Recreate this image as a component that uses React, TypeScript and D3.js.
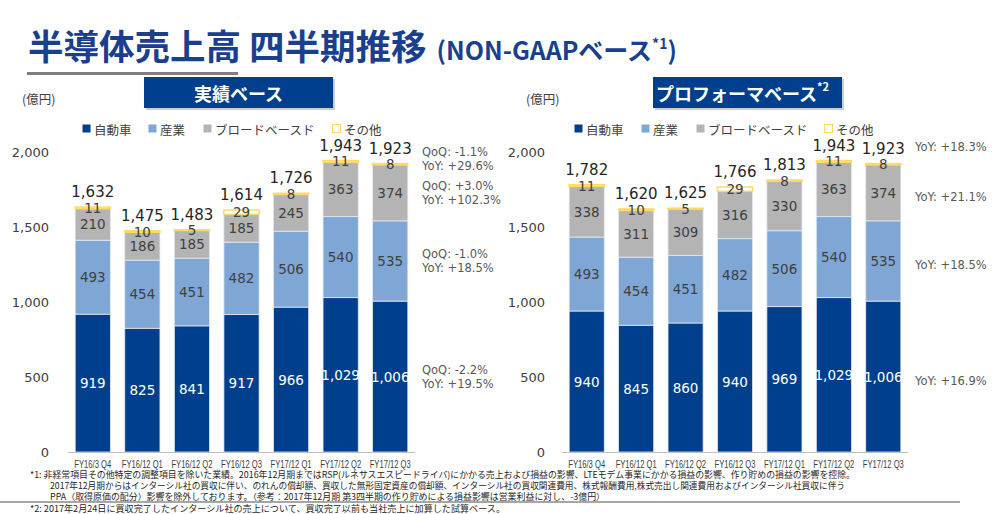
import React from "react";
import * as d3 from "d3";

const categories = ["FY16/3 Q4", "FY16/12 Q1", "FY16/12 Q2", "FY16/12 Q3", "FY17/12 Q1", "FY17/12 Q2", "FY17/12 Q3"];
const seriesNames = ["自動車", "産業", "ブロードベースド", "その他"];
const seriesColors = ["#003F8E", "#7FA7D6", "#B4B4B4", "#FFFFFF"];

// 実績ベース
const actualAuto = [919, 825, 841, 917, 966, 1029, 1006];
const actualIndustrial = [493, 454, 451, 482, 506, 540, 535];
const actualBroad = [210, 186, 185, 185, 245, 363, 374];
const actualOther = [11, 10, 5, 29, 8, 11, 8];
const actualTotals = [1632, 1475, 1483, 1614, 1726, 1943, 1923];
const actualQoQ = ["QoQ: -1.1%", "QoQ: +3.0%", "QoQ: -1.0%", "QoQ: -2.2%"];
const actualYoY = ["YoY: +29.6%", "YoY: +102.3%", "YoY: +18.5%", "YoY: +19.5%"];

// プロフォーマベース
const proAuto = [940, 845, 860, 940, 969, 1029, 1006];
const proIndustrial = [493, 454, 451, 482, 506, 540, 535];
const proBroad = [338, 311, 309, 316, 330, 363, 374];
const proOther = [11, 10, 5, 29, 8, 11, 8];
const proTotals = [1782, 1620, 1625, 1766, 1813, 1943, 1923];
const proYoY = ["YoY: +18.3%", "YoY: +21.1%", "YoY: +18.5%", "YoY: +16.9%"];

const yTicks = [0, 500, 1000, 1500, 2000];

const JP = "'Noto Sans CJK JP', 'Noto Sans', sans-serif";
const NUM = "'DejaVu Sans', Verdana, sans-serif";

const footnote1 = "*1: 非経常項目その他特定の調整項目を除いた業績。2016年12月期まではRSP(ルネサスエスピードライバ)にかかる売上および損益の影響、LTEモデム事業にかかる損益の影響、作り貯めの損益の影響を控除。";
const footnote2 = "2017年12月期からはインターシル社の買収に伴い、のれんの償却額、買収した無形固定資産の償却額、インターシル社の買収関連費用、株式報酬費用,株式売出し関連費用およびインターシル社買収に伴う";
const footnote3 = "PPA（取得原価の配分）影響を除外しております。（参考：2017年12月期 第3四半期の作り貯めによる損益影響は営業利益に対し、-3億円）";
const footnote4 = "*2: 2017年2月24日に買収完了したインターシル社の売上について、買収完了以前も当社売上に加算した試算ベース。";

type ChartProps = {
  x0: number;
  x1: number;
  yLabelX: number;
  unitX: number;
  series: number[][];
  totals: number[];
  header: string;
  headerSup?: string;
  headerX: number;
  headerW: number;
  legendX: number[];
  qoq?: string[];
  yoy: string[];
  annX: number;
};

const y = d3.scaleLinear().domain([0, 2000]).range([452, 152]);

function StackChart(p: ChartProps) {
  const x = d3.scaleBand<string>().domain(categories).range([p.x0, p.x1]).paddingInner(0.29).paddingOuter(0.145);
  const rows = categories.map((c, i) => {
    const r: any = { cat: c };
    seriesNames.forEach((s, k) => (r[s] = p.series[k][i]));
    return r;
  });
  const stacked = d3.stack<any>().keys(seriesNames)(rows);
  const last = categories.length - 1;
  const mids = stacked.map((s) => (y(s[last][0]) + y(s[last][1])) / 2);
  const topY = y(p.totals[last]);
  return (
    <g>
      {/* header box */}
      <rect x={p.headerX + 2} y={79} width={p.headerW} height={31} fill="#9a9a9a" opacity={0.5} />
      <rect x={p.headerX} y={77} width={p.headerW} height={31} fill="#003F8E" />
      <text x={p.headerX + p.headerW / 2 - (p.headerSup ? 5 : 0)} y={93} fill="#fff" fontFamily={JP} fontWeight={700} fontSize={18} textAnchor="middle" dominantBaseline="central">
        {p.header}
        {p.headerSup ? <tspan fontSize={11} dy={-7}>{p.headerSup}</tspan> : null}
      </text>
      <text x={p.unitX} y={98} fontFamily={JP} fontSize={12.5} fill="#404040" dominantBaseline="central">(億円)</text>
      {/* legend */}
      {seriesNames.map((s, k) => (
        <g key={s}>
          <rect x={p.legendX[k] + 0.5} y={124.5} width={8} height={8} fill={k === 3 ? "#fff" : seriesColors[k]} stroke={k === 3 ? "#FFD966" : "none"} strokeWidth={1} />
          <text x={p.legendX[k] + 12} y={129} fontFamily={JP} fontSize={12.5} fill="#404040" dominantBaseline="central">{s}</text>
        </g>
      ))}
      {/* y labels */}
      {yTicks.map((t) => (
        <text key={t} x={p.yLabelX} y={y(t)} textAnchor="end" dominantBaseline="central" fontFamily={NUM} fontSize={13} fill="#404040">
          {d3.format(",")(t)}
        </text>
      ))}
      {/* bars */}
      {stacked.map((s, k) =>
        s.map((d, i) => (
          <rect
            key={k + "-" + i}
            x={x(categories[i])!}
            y={y(d[1])}
            width={x.bandwidth()}
            height={Math.max(0, y(d[0]) - y(d[1]))}
            fill={seriesColors[k]}
            stroke={k === 3 ? "#FFD966" : "#E4E8EE"}
            strokeWidth={k === 3 ? 1.5 : 0.8}
          />
        ))
      )}
      {/* segment labels */}
      {stacked.map((s, k) =>
        s.map((d, i) => (
          <text
            key={"l" + k + "-" + i}
            x={x(categories[i])! + x.bandwidth() / 2}
            y={(y(d[0]) + y(d[1])) / 2}
            textAnchor="middle"
            dominantBaseline="central"
            fontFamily={NUM}
            fontSize={13.5}
            fill={k === 0 ? "#fff" : "#404040"}
          >
            {d3.format(",")(p.series[k][i])}
          </text>
        ))
      )}
      {/* totals */}
      {p.totals.map((t, i) => (
        <text key={"t" + i} x={x(categories[i])! + x.bandwidth() / 2} y={y(t) - 15} textAnchor="middle" dominantBaseline="central" fontFamily={NUM} fontSize={15} fill="#262626">
          {d3.format(",")(t)}
        </text>
      ))}
      {/* axis */}
      <line x1={p.x0} x2={p.x1} y1={452.5} y2={452.5} stroke="#BFBFBF" strokeWidth={1} />
      {categories.map((c) => (
        <text key={c} x={x(c)! + x.bandwidth() / 2} y={464} textAnchor="middle" dominantBaseline="central" fontFamily="'Liberation Sans', Arial, sans-serif" fontSize={10} textLength={c.length * 4.1} lengthAdjust="spacingAndGlyphs" fill="#404040">
          {c}
        </text>
      ))}
      {/* annotations */}
      {p.yoy.map((yy, j) => {
        const cy = j === 0 ? topY - (p.qoq ? 5 : 17) : mids[3 - j] + (p.qoq ? 0 : 4);
        if (p.qoq) {
          return (
            <g key={"a" + j} fontFamily={NUM} fontSize={11.5} fill="#595959">
              <text x={p.annX} y={cy - 7} dominantBaseline="central">{p.qoq[j]}</text>
              <text x={p.annX} y={cy + 7} dominantBaseline="central">{yy}</text>
            </g>
          );
        }
        return (
          <text key={"a" + j} x={p.annX} y={cy} dominantBaseline="central" fontFamily={NUM} fontSize={11.5} fill="#595959">{yy}</text>
        );
      })}
    </g>
  );
}

export default function App() {
  return (
    <svg width={1000} height={514} style={{ display: "block", position: "absolute", left: 0, top: 0 }}>
      <rect width={1000} height={514} fill="#fff" />
      <text x={28} y={60} fontFamily={JP} fontWeight={700} fontSize={35.5} fill="#1B3F8F">
        半導体売上高 四半期推移
        <tspan fontSize={25} dx={10}>(NON-GAAPベース</tspan>
        <tspan fontSize={14} dy={-11}>*1</tspan>
        <tspan fontSize={25} dy={11}>)</tspan>
      </text>
      <line x1={27} x2={238} y1={73.5} y2={73.5} stroke="#7F7F7F" strokeWidth={3} />
      <StackChart
        x0={68}
        x1={415}
        yLabelX={49}
        unitX={22}
        series={[actualAuto, actualIndustrial, actualBroad, actualOther]}
        totals={actualTotals}
        header="実績ベース"
        headerX={144}
        headerW={189}
        legendX={[82, 148, 203, 332]}
        qoq={actualQoQ}
        yoy={actualYoY}
        annX={422}
      />
      <StackChart
        x0={562}
        x1={908}
        yLabelX={545}
        unitX={526}
        series={[proAuto, proIndustrial, proBroad, proOther]}
        totals={proTotals}
        header="プロフォーマベース"
        headerSup="*2"
        headerX={653}
        headerW={189}
        legendX={[574, 641, 696, 824]}
        yoy={proYoY}
        annX={915}
      />
      <g fontFamily={JP} fontSize={8.8} fill="#262626">
        <text x={30} y={474} textLength={825} lengthAdjust="spacingAndGlyphs" dominantBaseline="central">{footnote1}</text>
        <text x={50} y={485} textLength={795} lengthAdjust="spacingAndGlyphs" dominantBaseline="central">{footnote2}</text>
        <text x={50} y={496} textLength={555} lengthAdjust="spacingAndGlyphs" dominantBaseline="central">{footnote3}</text>
        <text x={30} y={508} textLength={475} lengthAdjust="spacingAndGlyphs" dominantBaseline="central">{footnote4}</text>
      </g>
      <line x1={0} x2={960} y1={502} y2={502} stroke="#A6A6A6" strokeWidth={2} />
    </svg>
  );
}
